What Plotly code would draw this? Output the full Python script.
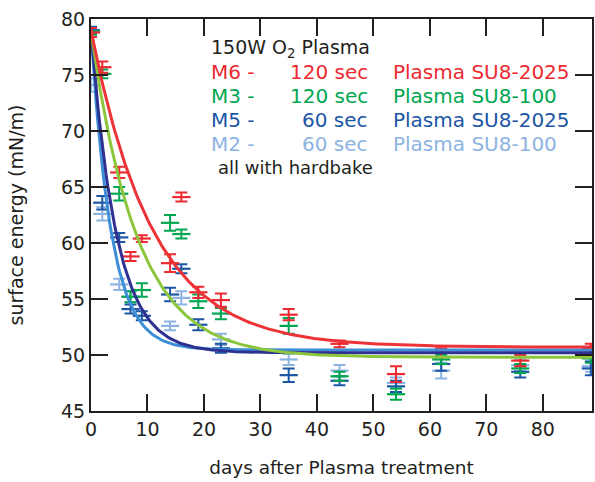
import numpy as np
import plotly.graph_objects as go

days = [0, 2, 5, 7, 9, 14, 16, 19, 23, 35, 44, 54, 62, 76, 88.5]

m6 = [78.8, 75.7, 66.3, 58.8, 60.4, 58.2, 64.1, 55.6, 54.9, 53.6, 51.0, 48.3, 50.2, 49.5, 50.6]
m6_err = [0.4, 0.5, 0.5, 0.4, 0.3, 0.8, 0.4, 0.5, 0.6, 0.5, 0.3, 0.7, 0.4, 0.5, 0.4]
m3 = [78.9, 75.1, 64.4, 55.2, 55.8, 61.8, 60.8, 54.8, 53.7, 52.6, 48.1, 46.5, 49.6, 48.8, 49.7]
m3_err = [0.3, 0.4, 0.6, 0.5, 0.6, 0.7, 0.4, 0.6, 0.5, 0.7, 0.4, 0.5, 0.4, 0.4, 0.4]
m5 = [79.0, 63.6, 60.5, 54.1, 53.5, 55.4, 57.7, 52.7, 50.6, 48.2, 47.7, 47.2, 49.2, 48.5, 48.8]
m5_err = [0.3, 0.6, 0.4, 0.4, 0.4, 0.6, 0.4, 0.5, 0.4, 0.6, 0.4, 0.5, 0.6, 0.5, 0.6]
m2 = [74.1, 62.6, 56.3, 55.2, None, 52.6, 55.1, None, 51.4, 49.6, 48.6, 47.5, 48.6, 49.1, 49.0]
m2_err = [0.6, 0.6, 0.5, 0.5, 0.0, 0.4, 0.6, 0.0, 0.5, 0.5, 0.5, 0.5, 0.7, 0.5, 0.5]

# exponential fit parameters (plateau, amplitude, time constant)
fit_m6 = [50.7, 28.3, 11.0]
fit_m3 = [49.8, 29.1, 8.2]
fit_m5 = [50.2, 28.8, 4.5]
fit_m2 = [50.45, 28.5, 3.6]

series = [
    (m6, m6_err, "#ec2a30"),
    (m3, m3_err, "#00a650"),
    (m5, m5_err, "#1c56a5"),
    (m2, m2_err, "#8db3e2"),
]
fits = [
    (fit_m6, "#ee3338"),
    (fit_m3, "#8cc63f"),
    (fit_m5, "#2e3192"),
    (fit_m2, "#3c8fd6"),
]

fig = go.Figure()
for vals, errs, col in series[::-1]:
    fig.add_trace(go.Scatter(
        x=days, y=vals, mode="markers",
        marker=dict(symbol="line-ew", size=13, color=col, line=dict(width=2.2, color=col)),
        error_y=dict(type="data", array=errs, visible=True, color=col, thickness=2, width=6),
        showlegend=False, cliponaxis=True,
    ))

t = np.linspace(0, 89, 300)
for (p, col) in fits[::-1]:
    fig.add_trace(go.Scatter(
        x=t, y=p[0] + p[1] * np.exp(-t / p[2]), mode="lines",
        line=dict(color=col, width=3), showlegend=False,
    ))

font = "DejaVu Sans"
FS = 20
rows = [
    ("M6 -", "120 sec", "Plasma SU8-2025", "#ec2a30", 72),
    ("M3 -", "120 sec", "Plasma SU8-100", "#00a650", 96),
    ("M5 -", "60 sec", "Plasma SU8-2025", "#1c56a5", 120),
    ("M2 -", "60 sec", "Plasma SU8-100", "#8db3e2", 144),
]
annotations = []
W, H = 595, 482
L, R, T, B = 91, 1, 19, 71
pw, ph = W - L - R, H - T - B

def px(xp, yp):
    return (xp - L) / pw, 1 - (yp - T) / ph

x0, y0 = px(209, 48)
annotations.append(dict(x=x0, y=y0, xref="paper", yref="paper", text="150W O<sub>2</sub> Plasma",
                        showarrow=False, xanchor="left", yanchor="middle",
                        font=dict(family=font, size=19, color="#231f20")))
for a, b, c, col, yy in rows:
    xa, ya = px(209, yy)
    annotations.append(dict(x=xa, y=ya, xref="paper", yref="paper", text=a, showarrow=False,
                            xanchor="left", yanchor="middle", font=dict(family=font, size=FS, color=col)))
    xb, _ = px(371, yy)
    annotations.append(dict(x=xb, y=ya, xref="paper", yref="paper", text=b, showarrow=False,
                            xanchor="right", yanchor="middle", font=dict(family=font, size=FS, color=col)))
    xc, _ = px(392, yy)
    annotations.append(dict(x=xc, y=ya, xref="paper", yref="paper", text=c, showarrow=False,
                            xanchor="left", yanchor="middle", font=dict(family=font, size=FS, color=col)))
xh, yh = px(216, 168)
annotations.append(dict(x=xh, y=yh, xref="paper", yref="paper", text="all with hardbake", showarrow=False,
                        xanchor="left", yanchor="middle", font=dict(family=font, size=18, color="#231f20")))

axis_common = dict(showline=True, linewidth=2, linecolor="#231f20", mirror="ticks",
                   ticks="inside", ticklen=17, tickwidth=2, tickcolor="#231f20",
                   showgrid=False, zeroline=False,
                   tickfont=dict(family=font, size=19, color="#231f20"))

fig.update_layout(
    width=W, height=H,
    margin=dict(l=L, r=R, t=T, b=B),
    plot_bgcolor="white", paper_bgcolor="white",
    xaxis=dict(range=[0, 88.7], tickvals=[0, 10, 20, 30, 40, 50, 60, 70, 80],
               title=dict(text="days after Plasma treatment", standoff=22,
                          font=dict(family=font, size=18.5, color="#231f20")),
               **axis_common),
    yaxis=dict(range=[45, 80], tickvals=[45, 50, 55, 60, 65, 70, 75, 80],
               title=dict(text="surface energy (mN/m)", standoff=32,
                          font=dict(family=font, size=19, color="#231f20")),
               **axis_common),
    annotations=annotations,
)

fig.write_html("out.html")
